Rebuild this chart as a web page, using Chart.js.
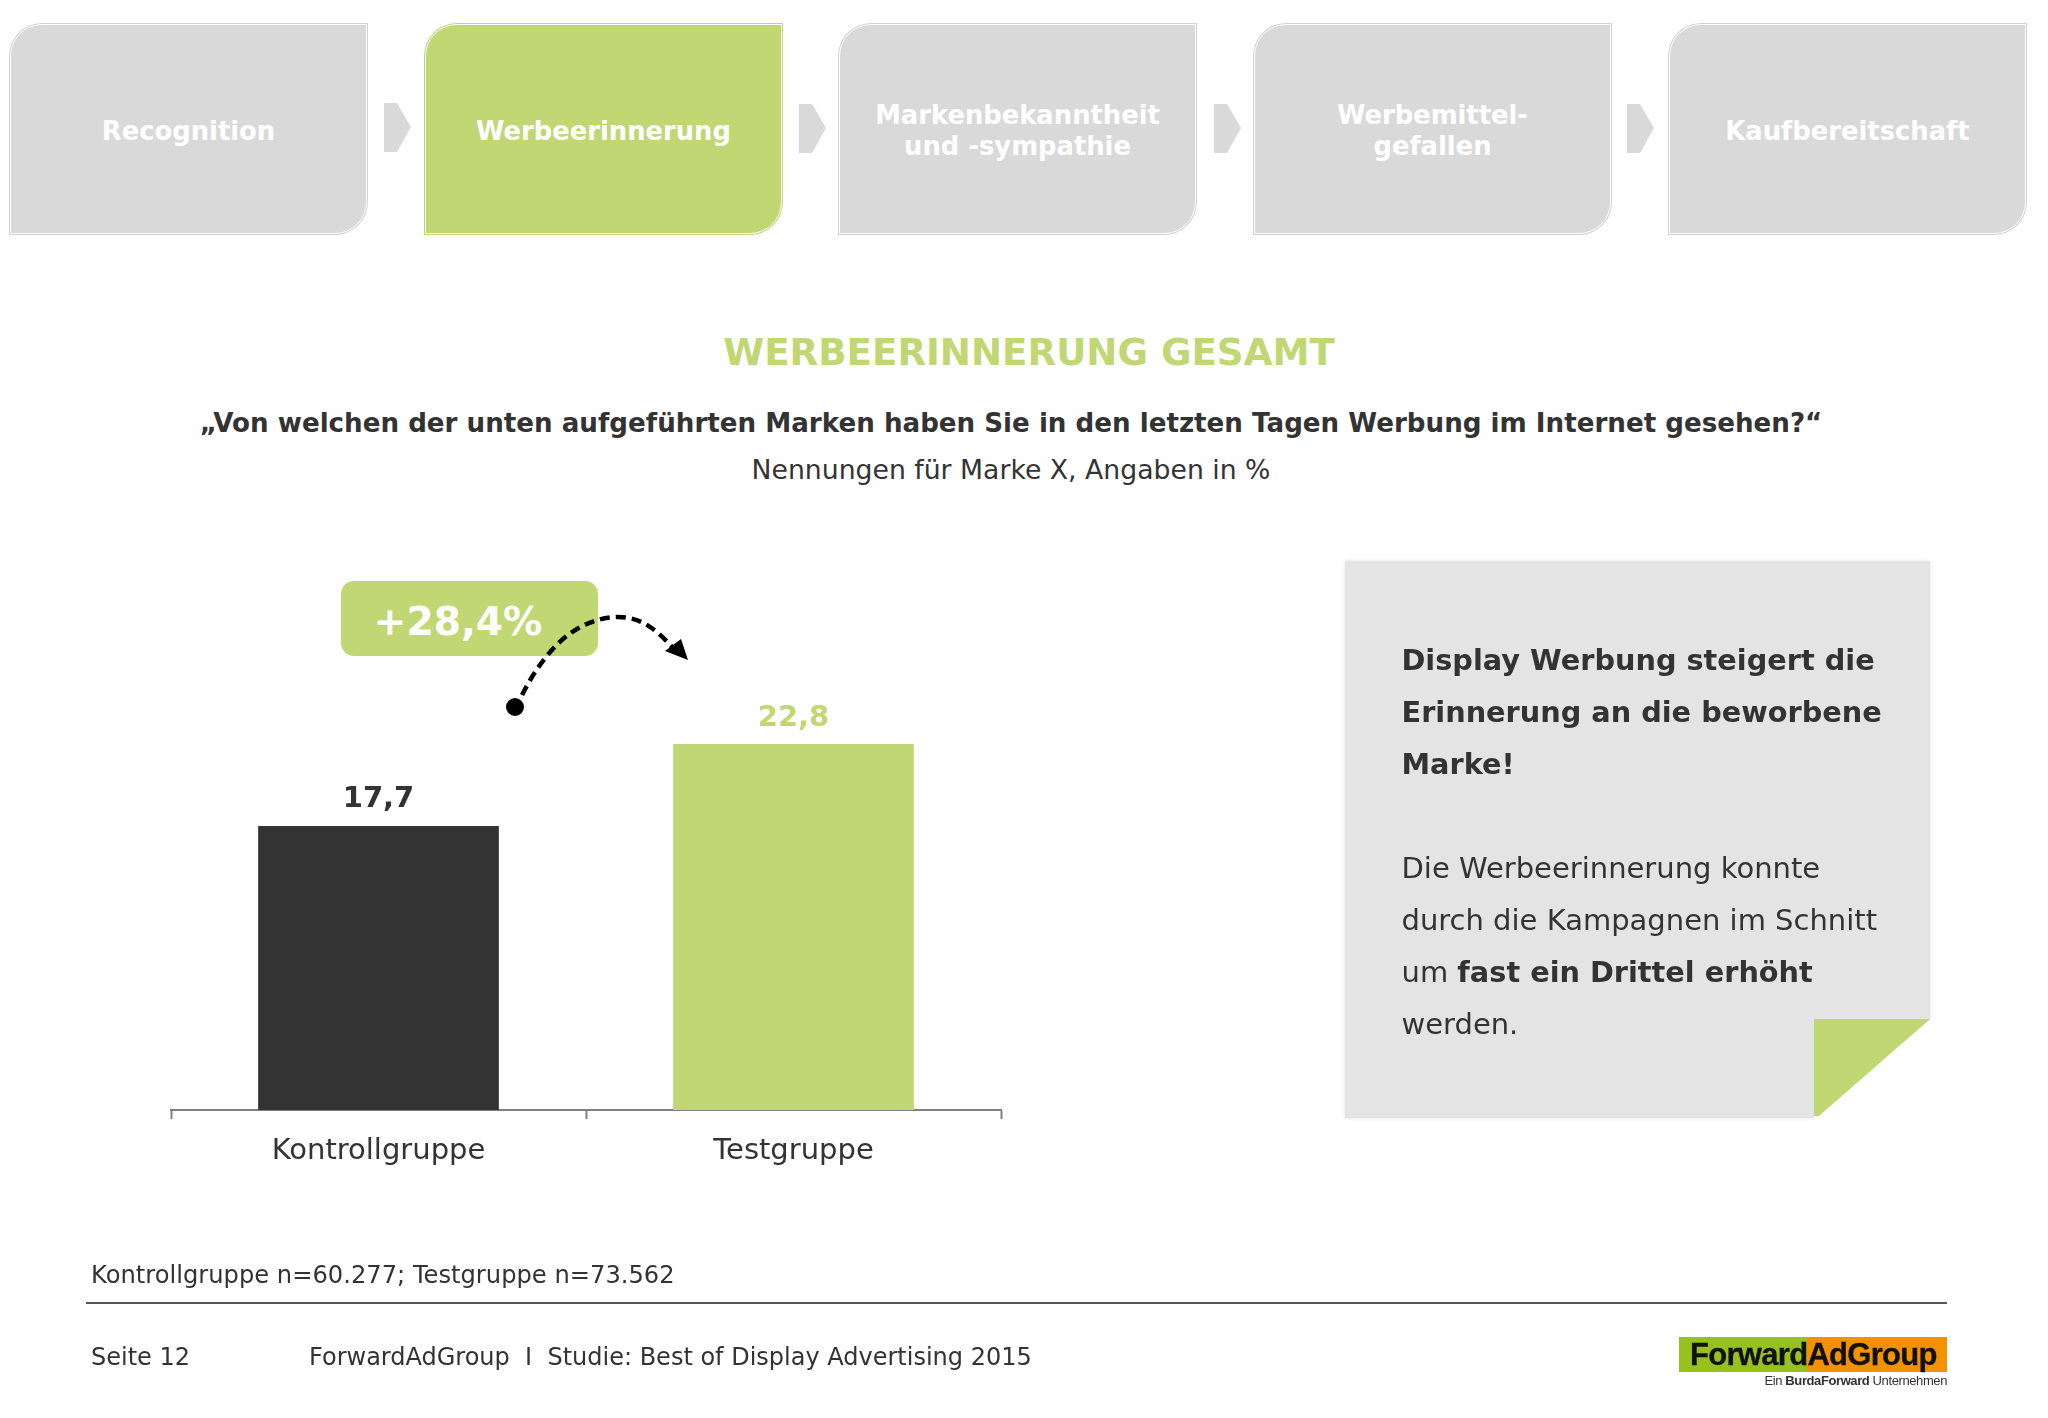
<!DOCTYPE html>
<html lang="de">
<head>
<meta charset="utf-8">
<title>Werbeerinnerung gesamt</title>
<script src="https://cdn.jsdelivr.net/npm/chart.js@4"></script>
<style>
    body { margin: 0; width: 2048px; height: 1418px; background: #fff; position: relative; overflow: hidden;
           font-family: "DejaVu Sans", sans-serif; color: #333; }
    .t { position: absolute; white-space: nowrap; }
    .c { transform: translateX(-50%); text-align: center; }
    .step { position: absolute; top: 24px; width: 357px; height: 210px; box-sizing: border-box; border: 1px solid #fff;
            border-radius: 32px 0 32px 0; background: #d9d9d9; box-shadow: 0 0 0 1px #d2d2d2;
            display: flex; align-items: center; justify-content: center; text-align: center;
            color: #fff; font-weight: bold; font-size: 25.8px; line-height: 31px; padding-top: 4px; }
    .step.on { background: #c0d774; box-shadow: 0 0 0 1px #c0d774; }
    #pill { position: absolute; left: 341px; top: 581px; width: 257px; height: 75px; border-radius: 13px; background: #c0d774; }
    #note { position: absolute; left: 1345px; top: 561px; width: 585px; height: 557px; background: #e4e4e4;
            box-shadow: 0 0 4px rgba(0,0,0,.12); }
    #noteText { position: absolute; left: 1401.5px; top: 634px; font-size: 29px; line-height: 52px; white-space: nowrap; color: #333; }
    #noteText b { font-size: 28.75px; }
    #chartBox { position: absolute; left: 160px; top: 650px; width: 860px; height: 530px; }
    #deco { position: absolute; left: 0; top: 0; }
    #rule { position: absolute; left: 86px; top: 1302px; width: 1861px; height: 2px; background: #555; }
    #logo { position: absolute; left: 1679px; top: 1337px; width: 268px; height: 35px;
            background: linear-gradient(90deg, #97c11f 0, #97c11f 128px, #f39200 128px); }
</style>
</head>
<body>

<div class="step" style="left:10px">Recognition</div>
<div class="step on" style="left:425px">Werbeerinnerung</div>
<div class="step" style="left:839px">Markenbekanntheit<br>und -sympathie</div>
<div class="step" style="left:1254px">Werbemittel-<br>gefallen</div>
<div class="step" style="left:1669px">Kaufbereitschaft</div>

<div class="t c" style="left:1029px;top:330px;font-size:37.2px;line-height:44px;font-weight:bold;color:#c0d774">WERBEERINNERUNG GESAMT</div>
<div class="t c" style="left:1011px;top:407px;font-size:26.15px;line-height:32px;font-weight:bold">„Von welchen der unten aufgeführten Marken haben Sie in den letzten Tagen Werbung im Internet gesehen?“</div>
<div class="t c" style="left:1011px;top:454px;font-size:26.7px;line-height:32px">Nennungen für Marke X, Angaben in %</div>

<div id="pill"></div>
<div class="t c" style="left:458px;top:597px;font-size:39.2px;line-height:50px;font-weight:bold;color:#fff">+28,4%</div>

<div id="chartBox"><canvas id="chart"></canvas></div>

<div id="note"></div>
<svg id="deco" width="2048" height="1418">
    <polygon points="384,103 397,103 411,127 397,152 384,152" fill="#d9d9d9"/>
    <polygon points="799,104 812,104 826,128 812,153 799,153" fill="#d9d9d9"/>
    <polygon points="1214,104 1227,104 1241,128 1227,153 1214,153" fill="#d9d9d9"/>
    <polygon points="1627,104 1640,104 1654,128 1640,153 1627,153" fill="#d9d9d9"/>
    <polygon points="1931,1019 1940,1019 1940,1130 1814,1130 1814,1117" fill="#fff"/>
    <polygon points="1814,1019 1930,1019 1819,1116 1814,1116" fill="#c0d774"/>
    <circle cx="515" cy="707" r="9" fill="#000"/>
    <path d="M522,695 C545,650 575,618 618,617 C640,617 655,628 673,648" fill="none" stroke="#000" stroke-width="4.5" stroke-dasharray="10 6"/>
    <polygon points="688,660 665,651 681,639" fill="#000"/>
</svg>
<div id="noteText"><b>Display Werbung steigert die<br>Erinnerung an die beworbene<br>Marke!</b><br><br>Die Werbeerinnerung konnte<br>durch die Kampagnen im Schnitt<br>um <b>fast ein Drittel erhöht</b><br>werden.</div>

<div class="t" style="left:91px;top:1260px;font-size:24.2px;line-height:30px">Kontrollgruppe n=60.277; Testgruppe n=73.562</div>
<div id="rule"></div>
<div class="t" style="left:91px;top:1342px;font-size:24px;line-height:30px">Seite 12</div>
<div class="t" style="left:309px;top:1342px;font-size:24px;line-height:30px">ForwardAdGroup&nbsp; I &nbsp;Studie: Best of Display Advertising 2015</div>

<div id="logo"></div>
<div class="t" style="left:1690px;top:1337px;font-family:'Liberation Sans',sans-serif;font-weight:bold;font-size:31px;line-height:36px;letter-spacing:-.7px;-webkit-text-stroke:.3px #111;color:#111">ForwardAdGroup</div>
<div class="t" style="right:101px;top:1373px;font-family:'Liberation Sans',sans-serif;font-size:13px;line-height:16px;letter-spacing:-.4px;color:#333">Ein <b>BurdaForward</b> Unternehmen</div>

<script>
const categories = ['Kontrollgruppe', 'Testgruppe'];
const recall = [17.7, 22.8];
const barColors = ['#333333', '#c0d774'];

// value labels over the bars, German decimal comma
const valueLabels = {
    id: 'valueLabels',
    afterDatasetsDraw(chart) {
        const ctx = chart.ctx;
        ctx.save();
        ctx.font = 'bold 29px "DejaVu Sans"';
        ctx.textAlign = 'center';
        ctx.textBaseline = 'middle';
        chart.getDatasetMeta(0).data.forEach((bar, i) => {
            ctx.fillStyle = barColors[i];
            ctx.fillText(recall[i].toFixed(1).replace('.', ','), bar.x, bar.y - 26);
        });
        ctx.restore();
    }
};

new Chart(document.getElementById('chart'), {
    type: 'bar',
    data: {
        labels: categories,
        datasets: [{
            data: recall,
            backgroundColor: barColors,
            borderWidth: 0,
            categoryPercentage: 1,
            barPercentage: 0.58
        }]
    },
    options: {
        responsive: true,
        maintainAspectRatio: false,
        animation: false,
        layout: { padding: { left: 11, right: 19, top: 9, bottom: 0 } },
        plugins: { legend: { display: false }, tooltip: { enabled: false } },
        scales: {
            y: { display: false, min: 0, max: 28.1 },
            x: {
                afterFit(scale) { scale.height = 70; },
                border: { color: '#808080', width: 2 },
                grid: { drawOnChartArea: false, drawTicks: true, tickLength: 9, tickColor: '#808080', tickWidth: 2 },
                ticks: { color: '#333', padding: 15, maxRotation: 0, font: { family: 'DejaVu Sans', size: 29 } }
            }
        }
    },
    plugins: [valueLabels]
});
</script>
</body>
</html>
